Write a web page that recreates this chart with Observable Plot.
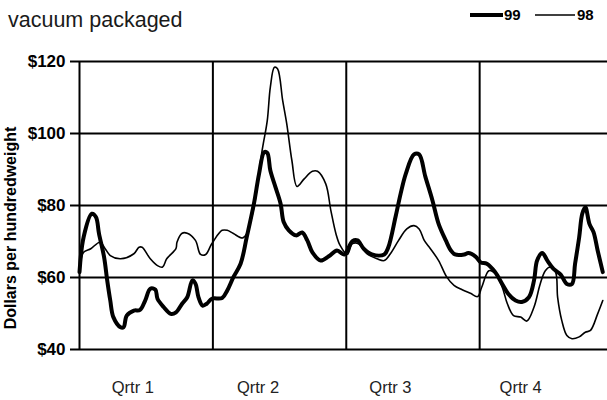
<!DOCTYPE html>
<html>
<head>
<meta charset="utf-8">
<script src="https://cdn.jsdelivr.net/npm/d3@7"></script>
<script src="https://cdn.jsdelivr.net/npm/@observablehq/plot@0.6"></script>
<style>
  html, body { margin: 0; padding: 0; background: #fff; }
  #chart { position: relative; width: 607px; height: 400px; overflow: hidden; }
</style>
</head>
<body>
<div id="chart"></div>
<script>
// ---- data ----
const titleText = "vacuum packaged";
const yTitle = "Dollars per hundredweight";
const seriesNames = ["99", "98"];

const weeks99 = [0,0.4,1.2,1.6,1.9,2.4,2.7,3.0,3.3,4.0,4.3,4.6,5.3,5.9,6.4,6.9,7.4,7.6,8.2,8.9,9.4,10.0,10.5,11.0,11.3,11.6,12.0,12.4,12.9,
  13.9,14.4,15.0,15.7,16.3,17.0,17.5,18.0,18.3,18.6,19.1,19.6,19.9,20.4,21.1,21.7,22.2,22.7,23.5,24.3,25.1,25.8,
  26.6,27.1,27.7,28.5,29.7,30.1,30.8,31.3,31.8,32.6,33.1,33.7,34.4,35.0,35.7,36.2,36.6,37.5,37.9,38.6,
  39.1,39.7,40.5,41.2,41.8,42.5,43.1,43.8,44.3,44.6,45.1,45.6,46.2,46.9,47.5,48.0,48.3,48.7,49.0,49.3,49.7,50.1,50.5,51.0];
const price99 = [61.5,71.2,77.7,76.8,72.2,65.6,59.2,53.6,49.0,46.2,46.2,49.4,50.8,51.0,53.6,56.9,56.6,54.1,51.8,49.9,50.3,52.7,54.5,59.2,58.3,54.5,52.2,52.7,54.1,
  54.3,56.4,60.1,63.8,71.2,80.5,88.8,94.8,94.6,89.7,85.1,80.5,75.4,73.1,71.7,72.5,70.3,67.0,64.7,65.9,67.5,66.4,
  70.1,70.3,68.0,66.4,66.4,68.4,76.8,83.3,88.8,94.2,94.2,88.1,81.4,74.9,70.3,67.5,66.4,66.4,66.8,65.8,
  64.2,63.8,61.5,58.2,55.4,53.6,53.2,54.5,59.2,64.7,66.8,64.7,62.4,60.8,58.2,58.2,63.8,71.2,77.7,79.5,74.9,72.6,67.5,61.5];

const weeks98 = [0,0.4,1.1,2.0,2.5,3.0,4.0,5.3,5.8,6.1,6.9,7.6,8.1,8.5,9.4,9.5,10.0,10.5,11.3,11.8,12.3,12.8,
  13.1,13.9,14.4,15.0,15.9,16.3,17.0,17.8,18.3,18.6,19.0,19.3,19.8,20.2,20.7,21.2,21.9,22.7,23.2,24.0,24.5,25.0,25.4,
  26.1,26.6,27.2,28.0,29.0,29.7,30.3,31.1,31.9,32.6,33.1,33.6,34.2,35.0,35.8,36.5,37.3,38.1,38.8,
  39.2,39.9,40.5,41.2,41.7,42.3,43.0,43.6,44.3,44.9,45.4,45.9,46.4,46.6,47.0,47.5,48.0,48.7,49.3,49.8,50.5,51.0];
const price98 = [61.9,67.0,68.0,69.8,68.0,66.1,65.2,66.6,68.4,68.4,65.2,63.3,62.9,65.2,68.0,69.8,72.3,72.3,70.3,66.4,66.4,68.9,
  70.3,73.1,73.1,72.2,71.0,72.2,79.5,95.3,103.6,112.9,118.4,118.0,109.2,102.7,92.5,85.3,87.4,89.5,89.5,86.0,78.6,72.1,68.9,
  66.4,69.4,69.4,66.6,65.2,64.7,66.6,70.3,73.5,74.4,73.5,70.3,68.0,64.7,60.1,57.8,56.6,55.6,54.7,
  57.3,61.9,61.2,57.3,52.7,49.4,49.0,47.9,51.8,58.2,61.9,62.9,61.5,54.5,48.1,43.9,43.0,43.5,44.8,45.3,49.9,53.6];

const yTicks = [40, 60, 80, 100, 120];
const quarterStarts = [0, 13, 26, 39];
const qtrTickPos = [5.2, 17.4, 30.3, 43];
const qtrLabels = ["Qrtr 1", "Qrtr 2", "Qrtr 3", "Qrtr 4"];

// ---- build tables ----
const d99 = weeks99.map((w, i) => ({week: w, price: price99[i], year: seriesNames[0]}));
const d98 = weeks98.map((w, i) => ({week: w, price: price98[i], year: seriesNames[1]}));

const font = "'Liberation Sans', Arial, sans-serif";

const chart = Plot.plot({
  width: 607,
  height: 400,
  marginLeft: 79,
  marginRight: 0,
  marginTop: 61,
  marginBottom: 51,
  style: {fontFamily: font, background: "#fff", color: "#000"},
  x: {domain: [0, 51.46]},
  y: {domain: [40, 120]},
  marks: [
    Plot.ruleY(yTicks, {stroke: "#000", strokeWidth: 2}),
    Plot.ruleX(quarterStarts, {stroke: "#000", strokeWidth: 2}),
    Plot.line(d98, {x: "week", y: "price", stroke: "#000", strokeWidth: 1.6, curve: "catmull-rom", strokeLinejoin: "round"}),
    Plot.line(d99, {x: "week", y: "price", stroke: "#000", strokeWidth: 4, curve: "catmull-rom", strokeLinejoin: "round"}),
    Plot.axisY({ticks: yTicks, tickFormat: d => "$" + d, tickSize: 9, tickPadding: 5,
      fontSize: 17, fontWeight: "bold", strokeWidth: 2, label: null}),
    Plot.axisX({ticks: qtrTickPos, tickFormat: d => qtrLabels[qtrTickPos.indexOf(d)],
      tickSize: 0, tickPadding: 32, fontSize: 16.5, fill: "#222", label: null})
  ]
});

document.getElementById("chart").appendChild(chart);

// title, legend and y title drawn into the same svg
const svg = d3.select(chart);
svg.append("text")
  .attr("x", 8).attr("y", 27).attr("text-anchor", "start")
  .attr("font-family", font).attr("font-size", 21.5).attr("fill", "#1a1a1a")
  .text(titleText);

svg.append("text")
  .attr("transform", "translate(10,228) rotate(-90)")
  .attr("text-anchor", "middle").attr("dominant-baseline", "central")
  .attr("font-family", font).attr("font-size", 16).attr("font-weight", "bold").attr("fill", "#000")
  .text(yTitle);

const legend = [
  {name: seriesNames[0], x1: 470, x2: 503, w: 4, tx: 504},
  {name: seriesNames[1], x1: 535, x2: 575, w: 1.6, tx: 577}
];
const lg = svg.append("g");
legend.forEach(l => {
  lg.append("line").attr("x1", l.x1).attr("x2", l.x2).attr("y1", 15).attr("y2", 15)
    .attr("stroke", "#000").attr("stroke-width", l.w);
  lg.append("text").attr("x", l.tx).attr("y", 20).attr("text-anchor", "start")
    .attr("font-family", font).attr("font-size", 15).attr("font-weight", "bold").attr("fill", "#000")
    .text(l.name);
});
</script>
</body>
</html>
